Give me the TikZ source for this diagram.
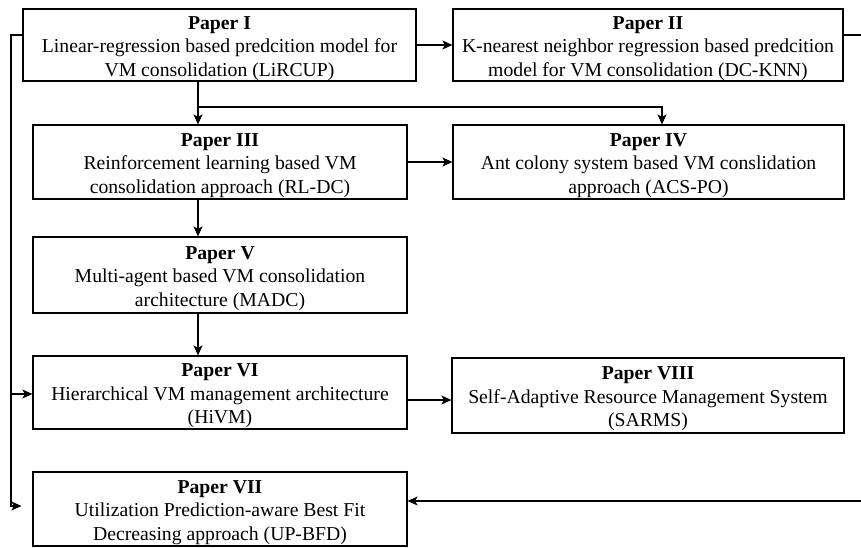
\documentclass[tikz,border=0pt]{standalone}
\usepackage{fontspec}
\setmainfont{Liberation Serif}
\usetikzlibrary{arrows.meta}
\begin{document}
\begin{tikzpicture}[x=1pt,y=-1pt,
  paper/.style={draw, line width=1.2pt, inner sep=0pt},
  caption/.style={inner sep=0pt, align=center, yshift=-3.5pt,
    font=\fontsize{19.7}{23.5}\selectfont},
  link/.style={line width=1.2pt, -{Stealth[length=10pt,width=9pt,inset=2.5pt]}}]
\useasboundingbox (0,0) rectangle (861,548);

% paper boxes, each with its title and description centred inside
\node[paper, minimum width=393pt, minimum height=72pt,
  label={[caption]center:{\textbf{Paper I}\\Linear-regression based predcition model for\\VM consolidation (LiRCUP)}}]
  (p1) at (219.5,45) {};
\node[paper, minimum width=390pt, minimum height=72pt,
  label={[caption]center:{\textbf{Paper II}\\K-nearest neighbor regression based predcition\\model for VM consolidation (DC-KNN)}}]
  (p2) at (648,45) {};
\node[paper, minimum width=374pt, minimum height=74pt,
  label={[caption]center:{\textbf{Paper III}\\Reinforcement learning based VM\\consolidation approach (RL-DC)}}]
  (p3) at (220,162) {};
\node[paper, minimum width=391pt, minimum height=74pt,
  label={[caption]center:{\textbf{Paper IV}\\Ant colony system based VM conslidation\\approach (ACS-PO)}}]
  (p4) at (648.5,162) {};
\node[paper, minimum width=374pt, minimum height=76pt,
  label={[caption]center:{\textbf{Paper V}\\Multi-agent based VM consolidation\\architecture (MADC)}}]
  (p5) at (220,275) {};
\node[paper, minimum width=374pt, minimum height=73pt,
  label={[caption]center:{\textbf{Paper VI}\\Hierarchical VM management architecture\\(HiVM)}}]
  (p6) at (220,392.5) {};
\node[paper, minimum width=392pt, minimum height=75pt,
  label={[caption]center:{\textbf{Paper VIII}\\Self-Adaptive Resource Management System\\(SARMS)}}]
  (p8) at (648,395.5) {};
\node[paper, minimum width=374pt, minimum height=74pt,
  label={[caption]center:{\textbf{Paper VII}\\Utilization Prediction-aware Best Fit\\Decreasing approach (UP-BFD)}}]
  (p7) at (220,509) {};

% routing helpers
\coordinate (spine) at (198,0);
\coordinate (ivx) at (662,0);
\coordinate (fork) at (0,107);
\coordinate (lrail) at (11,0);
\coordinate (rrail) at (875,0);
\coordinate (ytop) at (0,35);
\coordinate (y6) at (0,394);
\coordinate (y68) at (0,400);
\coordinate (y7l) at (0,506);
\coordinate (y7r) at (0,501);
\coordinate (p7gap) at ([xshift=-11pt]p7.west);

% connectors
\draw[link] (p1.east) -- (p2.west);
\draw[link] (spine |- p1.south) -- (spine |- p3.north);
\draw[link] (spine |- fork) -| (ivx |- p4.north);
\draw[link] (p3.east) -- (p4.west);
\draw[link] (spine |- p3.south) -- (spine |- p5.north);
\draw[link] (spine |- p5.south) -- (spine |- p6.north);
\draw[link] (p6.east |- y68) -- (p8.west |- y68);
\draw[link] (p1.west |- ytop) -| (lrail |- y7l) -- (p7gap |- y7l);
\draw[link] (lrail |- y6) -- (p6.west |- y6);
\draw[link] (p2.east |- ytop) -| (rrail |- y7r) -- (p7.east |- y7r);
\end{tikzpicture}
\end{document}
